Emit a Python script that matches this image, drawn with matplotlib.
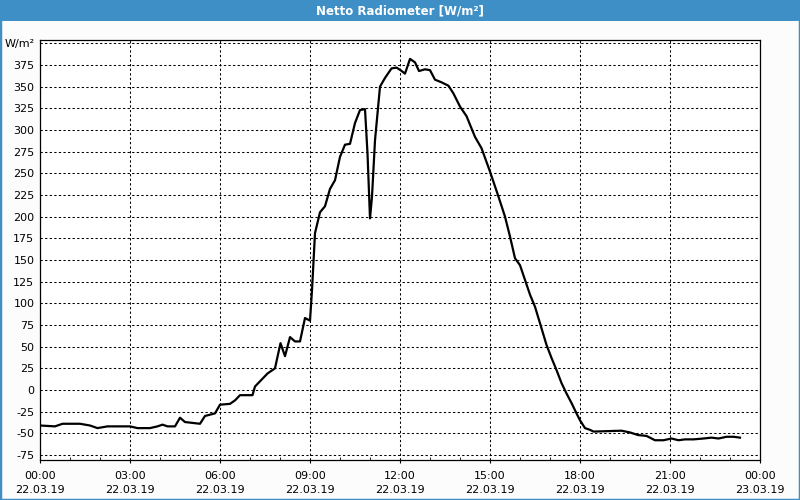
import pandas as pd
import matplotlib
matplotlib.use("Agg")
from matplotlib import pyplot as plt
import matplotlib.dates as mdates
from matplotlib.patches import Rectangle

# Netto radiometer readings, 22.03.19
times = ["00:00", "00:30", "00:45", "01:20", "01:40", "01:55", "02:15", "03:00",
         "03:15", "03:40", "03:55", "04:05", "04:15", "04:30", "04:40", "04:50",
         "05:05", "05:20", "05:30", "05:50", "06:00", "06:20", "06:30", "06:40",
         "07:05", "07:10", "07:25", "07:35", "07:50", "08:01", "08:10", "08:20",
         "08:30", "08:40", "08:50", "09:00", "09:04", "09:10", "09:20", "09:30",
         "09:40", "09:50", "10:00", "10:10", "10:20", "10:30", "10:40", "10:50",
         "10:55", "11:00", "11:04", "11:10", "11:20", "11:30", "11:43", "11:53",
         "12:01", "12:10", "12:20", "12:30", "12:38", "12:50", "13:00", "13:10",
         "13:23", "13:37", "13:47", "14:00", "14:13", "14:30", "14:43", "15:00",
         "15:17", "15:30", "15:40", "15:50", "16:00", "16:10", "16:20", "16:30",
         "16:40", "16:53", "17:03", "17:13", "17:23", "17:33", "17:43", "17:53",
         "18:00", "18:10", "18:20", "18:27", "19:23", "19:40", "19:56", "20:13",
         "20:30", "20:47", "21:03", "21:17", "21:30", "21:47", "22:07", "22:23",
         "22:37", "22:53", "23:07", "23:20"]
values = [-41, -42, -39, -39, -41, -44, -42, -42,
          -44, -44, -42, -40, -42, -42, -32, -37,
          -38, -39, -30, -27, -17, -16, -12, -6,
          -6, 4, 13, 19, 25, 54, 39, 61,
          56, 56, 83, 80, 115, 181, 205, 212,
          232, 242, 269, 283, 284, 308, 323, 324,
          273, 198, 223, 288, 350, 360, 371, 372,
          369, 365, 382, 378, 368, 370, 369, 358,
          355, 351, 342, 327, 316, 292, 279, 252,
          223, 200, 177, 152, 144, 127, 110, 96,
          77, 52, 37, 23, 8, -4, -15, -27,
          -35, -44, -46, -48, -47, -49, -52, -53,
          -58, -58, -56, -58, -57, -57, -56, -55,
          -56, -54, -54, -55]

ytick_vals = list(range(-75, 401, 25))
ytick_labels = [str(v) for v in ytick_vals[:-1]] + ["W/m²"]

t = pd.to_datetime(["2019-03-22 " + s for s in times])

fig = plt.figure(figsize=(8, 5), dpi=100)
fig.patch.set_facecolor("#fbfcfb")

# window frame and title bar
fig.patches.append(Rectangle((0, 0), 1, 1, transform=fig.transFigure, fill=False,
                             edgecolor="#3d8fc6", linewidth=2.5))
fig.patches.append(Rectangle((0, 1 - 21 / 500), 1, 21 / 500, transform=fig.transFigure,
                             facecolor="#3d8fc6", edgecolor="none"))
fig.text(0.5, 1 - 10.5 / 500, "Netto Radiometer [W/m²]", color="white",
         fontsize=8.5, fontweight="bold", ha="center", va="center")

ax = fig.add_axes([40 / 800, 40 / 500, 720 / 800, 420 / 500])
ax.set_facecolor("white")
ax.plot(t, values, color="black", linewidth=1.6)

ax.set_xlim(pd.Timestamp("2019-03-22 00:00"), pd.Timestamp("2019-03-23 00:00"))
ax.set_ylim(-80.8, 403.8)

ax.xaxis.set_major_locator(mdates.HourLocator(byhour=range(0, 24, 3)))
ax.xaxis.set_major_formatter(mdates.DateFormatter("%H:%M\n%d.%m.%y"))
ax.xaxis.set_minor_locator(mdates.HourLocator())
ax.set_yticks(ytick_vals)
ax.set_yticklabels(ytick_labels)

ax.grid(True, which="major", color="black", linestyle=(0, (2.2, 2.2)), linewidth=0.75)
ax.tick_params(axis="y", length=0, pad=4, labelsize=8)
ax.tick_params(axis="x", which="major", length=2, pad=6, labelsize=8, direction="out")
ax.tick_params(axis="x", which="minor", length=2, direction="in")
for lab in ax.get_xticklabels():
    lab.set_linespacing(1.5)
for s in ax.spines.values():
    s.set_color("black")
    s.set_linewidth(0.9)

fig.savefig("out.png", dpi=100, facecolor=fig.get_facecolor())
